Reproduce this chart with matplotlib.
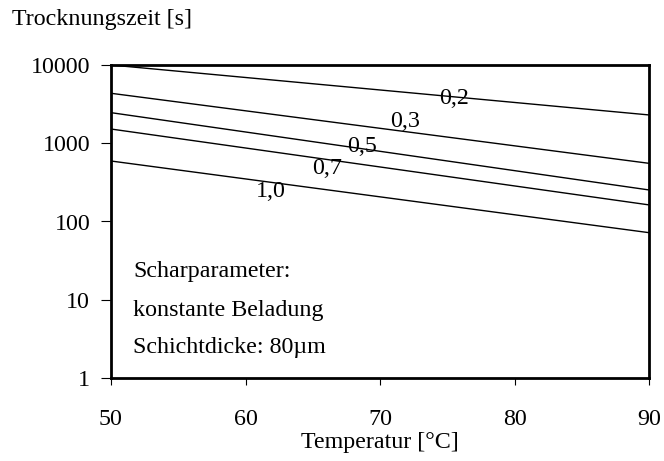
import numpy as np
import matplotlib
matplotlib.use("Agg")
import matplotlib.pyplot as plt

plt.rcParams['font.family'] = ['Liberation Serif', 'DejaVu Serif']

# Trocknungszeit bei 50 und 90 °C fuer jede Beladung
temps = [50, 90]
beladung = ["0,2", "0,3", "0,5", "0,7", "1,0"]
t_50 = [10000, 4350, 2460, 1520, 593]
t_90 = [2300, 554, 253, 163, 72]

# Beschriftung der Kurven (x, y)
label_x = [75.5, 71.9, 68.7, 66.1, 61.9]
label_y = [3780, 1870, 920, 480, 245]

fs = 17.3

fig = plt.figure(figsize=(6.64, 4.61), dpi=100)
ax = fig.add_axes([111 / 664, 1 - 378 / 461, 538 / 664, 313 / 461])

for i in range(len(beladung)):
    ax.plot(temps, [t_50[i], t_90[i]], color='black', lw=1.0)
    ax.text(label_x[i], label_y[i], beladung[i], fontsize=fs,
            ha='center', va='center')

ax.set_yscale('log')
ax.set_xlim(50, 90)
ax.set_ylim(1, 10000)
ax.set_xticks([50, 60, 70, 80, 90])
ax.set_yticks([1, 10, 100, 1000, 10000])
ax.set_yticklabels(["1", "10", "100", "1000", "10000"])
ax.yaxis.set_minor_locator(matplotlib.ticker.NullLocator())

for s in ax.spines.values():
    s.set_linewidth(2.0)
ax.tick_params(axis='both', labelsize=fs, width=0.8, direction='out')
ax.tick_params(axis='x', length=5, pad=17)
ax.tick_params(axis='y', length=7, pad=8)

ax.set_xlabel("Temperatur [°C]", fontsize=fs)
ax.xaxis.set_label_coords(0.5, -0.172)
fig.text(12 / 664, 1 - 19 / 461, "Trocknungszeit [s]", fontsize=fs,
         ha='left', va='center')

# Scharparameter-Hinweis unten links
info = ["Scharparameter:", "konstante Beladung", "Schichtdicke: 80µm"]
info_y = [0.339, 0.217, 0.099]
for line, y in zip(info, info_y):
    ax.text(0.041, y, line, transform=ax.transAxes, fontsize=fs,
            ha='left', va='center')

fig.savefig("out.png", dpi=100)
